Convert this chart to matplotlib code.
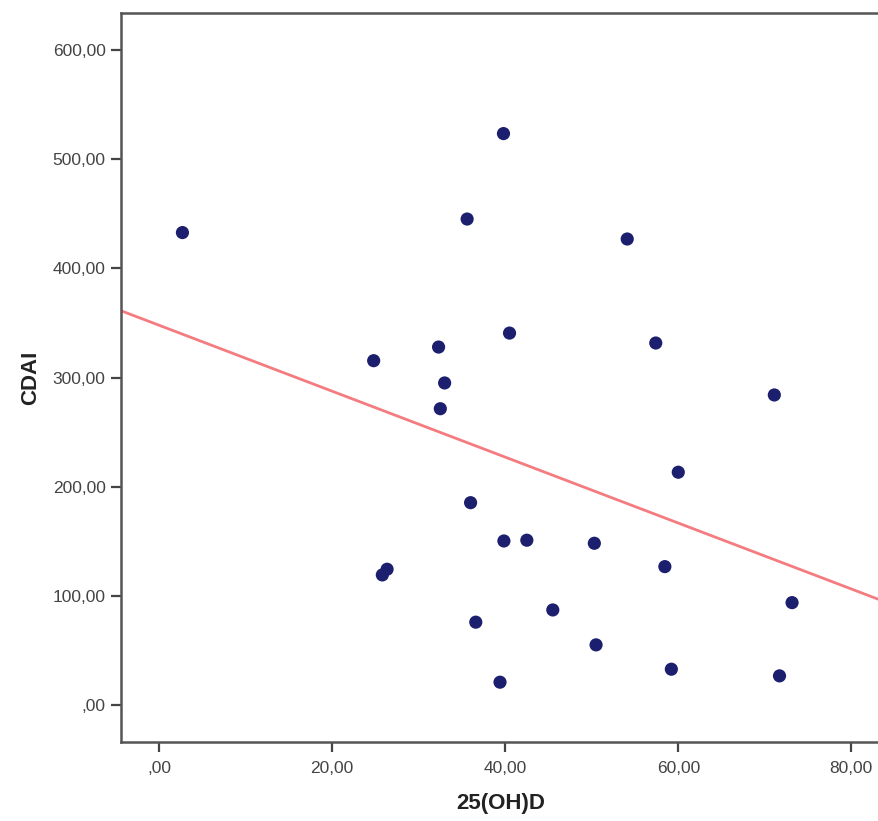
import numpy as np
import matplotlib
matplotlib.use("Agg")
import matplotlib.pyplot as plt
from matplotlib.ticker import FuncFormatter

# Data (25(OH)D vs CDAI)
vitd = [2.7, 39.8, 35.6, 54.1, 40.5, 57.4, 24.8, 32.3, 33.0, 32.5, 71.1, 60.0, 36.0,
        39.85, 42.5, 50.3, 26.35, 25.8, 58.45, 73.15, 45.5, 36.6, 50.5, 59.2, 39.4, 71.7]
cdai = [432.8, 523.5, 445.2, 426.9, 340.7, 331.6, 315.4, 327.9, 295.0, 271.4, 284.0, 213.2, 185.3,
        150.2, 150.9, 148.1, 124.3, 119.1, 126.7, 93.7, 87.0, 75.8, 55.0, 32.7, 20.8, 26.6]
xticks = [0, 20, 40, 60, 80]
yticks = [0, 100, 200, 300, 400, 500, 600]

plt.rcParams['font.family'] = ['Liberation Sans', 'DejaVu Sans']

fig = plt.figure(figsize=(8.79, 8.21), dpi=100)
ax = fig.add_axes([121/879, 1 - 742/821, 1 - 121/879 + 0.002, (742 - 13)/821])

ax.scatter(vitd, cdai, s=90, color='#1c1f6e', zorder=3, edgecolors='none')

slope, intercept = np.polyfit(vitd, cdai, 1)
xl = np.array([-10, 100])
ax.plot(xl, intercept + slope * xl, color='#f47c80', lw=2, zorder=2)

ax.set_xlim(-4.4, 83.4)
ax.set_ylim(-34, 634)
ax.set_xticks(xticks)
ax.set_yticks(yticks)

def fmt(v, pos):
    if v == 0:
        return ',00'
    return f'{v:.2f}'.replace('.', ',')

ax.xaxis.set_major_formatter(FuncFormatter(fmt))
ax.yaxis.set_major_formatter(FuncFormatter(fmt))

for s in ['left', 'bottom', 'top']:
    ax.spines[s].set_color('#555555')
    ax.spines[s].set_linewidth(1.8)
ax.spines['right'].set_visible(False)

ax.tick_params(axis='both', direction='out', length=7, width=1.6, color='#444444',
               labelsize=12.5, labelcolor='#444444')
ax.tick_params(axis='x', pad=7)
ax.tick_params(axis='y', pad=4)

ax.set_xlabel('25(OH)D', fontsize=16, fontweight='bold', color='#222222', labelpad=12)
ax.set_ylabel('CDAI', fontsize=16, fontweight='bold', color='#222222', labelpad=8)

fig.savefig('out.png', dpi=100)
